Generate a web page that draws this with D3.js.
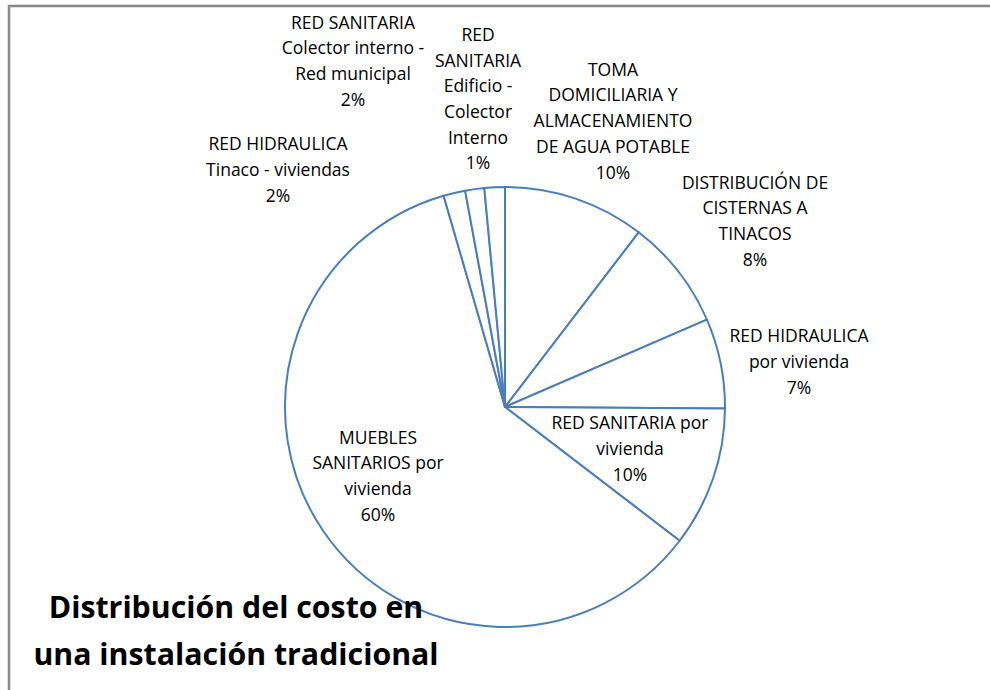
<!DOCTYPE html>
<html>
<head>
<meta charset="utf-8">
<script src="https://cdn.jsdelivr.net/npm/d3@7"></script>
<style>
  body { margin: 0; background: #fff; }
  svg { display: block; }
  .slice-label { font-family: "Open Sans", sans-serif; font-size: 17.5px; fill: #000; }
  .title { font-family: "Open Sans", sans-serif; font-size: 30.3px; font-weight: bold; fill: #000; }
</style>
</head>
<body>
<div class="chart"></div>
<script>
var svgWidth = 990;
var svgHeight = 690;

// slice names (lines of each label) and shares in percent, clockwise from 12 o'clock
var labelLines = [
  ["TOMA", "DOMICILIARIA Y", "ALMACENAMIENTO", "DE AGUA POTABLE"],
  ["DISTRIBUCIÓN DE", "CISTERNAS A", "TINACOS"],
  ["RED HIDRAULICA", "por vivienda"],
  ["RED SANITARIA por", "vivienda"],
  ["MUEBLES", "SANITARIOS por", "vivienda"],
  ["RED HIDRAULICA", "Tinaco - viviendas"],
  ["RED SANITARIA", "Colector interno -", "Red municipal"],
  ["RED", "SANITARIA", "Edificio -", "Colector", "Interno"]
];
var shares = [10.4, 8.1, 6.6, 10.3, 60.1, 1.6, 1.4, 1.5];
var percentLabels = ["10%", "8%", "7%", "10%", "60%", "2%", "2%", "1%"];

var titleLines = ["Distribución del costo en", "una instalación tradicional"];

// label centres relative to the pie centre (Excel "best fit" placement)
var labelOffsets = [
  [108, -286], [250, -186], [294, -45], [125, 42],
  [-127, 69], [-227, -237], [-152, -346], [-27, -308]
];

var cx = 505, cy = 407, radius = 220;
var lineHeight = 25.7;

var svg = d3.select(".chart").append("svg")
  .attr("width", svgWidth)
  .attr("height", svgHeight);

// chart area frame
svg.append("rect")
  .attr("x", 9)
  .attr("y", 6)
  .attr("width", 1000)
  .attr("height", 720)
  .attr("fill", "#fff")
  .attr("stroke", "#898989")
  .attr("stroke-width", 2.5);

var pie = d3.pie().sort(null).value(d => d);
var arc = d3.arc().innerRadius(0).outerRadius(radius);

var pieGroup = svg.append("g")
  .attr("transform", `translate(${cx}, ${cy})`);

pieGroup.selectAll("path")
  .data(pie(shares))
  .enter()
  .append("path")
  .attr("d", arc)
  .attr("fill", "#fff")
  .attr("stroke", "#4a7ebb")
  .attr("stroke-width", 2)
  .attr("stroke-linejoin", "round");

// data labels: name lines + percentage, centred on their anchor
var labels = pieGroup.selectAll("text.slice-label")
  .data(labelLines)
  .enter()
  .append("text")
  .attr("class", "slice-label")
  .attr("text-anchor", "middle")
  .attr("transform", (d, i) => `translate(${labelOffsets[i][0]}, ${labelOffsets[i][1]})`);

labels.each(function(lines, i) {
  var all = lines.concat([percentLabels[i]]);
  var top = -(all.length - 1) * lineHeight / 2;
  d3.select(this).selectAll("tspan")
    .data(all)
    .enter()
    .append("tspan")
    .attr("x", 0)
    .attr("y", (t, j) => top + j * lineHeight)
    .attr("dy", "0.35em")
    .text(t => t);
});

// chart title
svg.append("g")
  .selectAll("text")
  .data(titleLines)
  .enter()
  .append("text")
  .attr("class", "title")
  .attr("text-anchor", "middle")
  .attr("x", 236)
  .attr("y", (d, i) => 607 + i * 47)
  .attr("dy", "0.35em")
  .text(d => d);
</script>
</body>
</html>
